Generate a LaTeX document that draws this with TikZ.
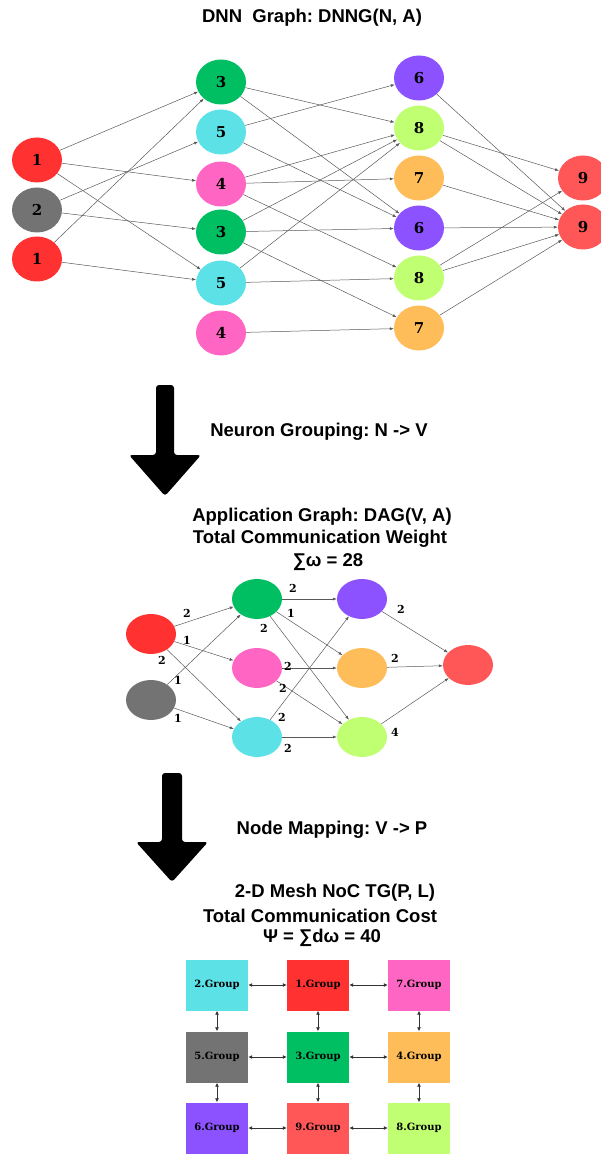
\documentclass[tikz,border=0pt]{standalone}
\usepackage{fontspec}
\usepackage{tikz}
\usetikzlibrary{arrows.meta,shapes.geometric}
\newfontfamily\labelFont{DejaVu Serif}
\newfontfamily\headFont{Liberation Sans}
\frenchspacing
\definecolor{nRed}{HTML}{FF3131}
\definecolor{nLightRed}{HTML}{FF5757}
\definecolor{nGray}{HTML}{737373}
\definecolor{nGreen}{HTML}{00BF63}
\definecolor{nCyan}{HTML}{5CE1E6}
\definecolor{nPink}{HTML}{FF66C4}
\definecolor{nPurple}{HTML}{8C52FF}
\definecolor{nLime}{HTML}{C1FF72}
\definecolor{nOrange}{HTML}{FFBD59}
\tikzstyle{neuronStyle}=[shape = ellipse, minimum width = 50pt, minimum height = 45pt, inner sep = 0pt, font = \labelFont\bfseries\fontsize{15}{15}\selectfont]
\tikzstyle{vertexStyle}=[shape = ellipse, minimum width = 50pt, minimum height = 40pt, inner sep = 0pt]
\tikzstyle{tileStyle}=[shape = rectangle, minimum width = 62pt, minimum height = 51pt, inner sep = 0pt, font = \labelFont\bfseries\fontsize{10}{10}\selectfont]
\tikzstyle{weightStyle}=[inner sep = 0pt, font = \labelFont\bfseries\fontsize{11}{11}\selectfont]
\tikzstyle{headStyle}=[inner sep = 0pt, font = \headFont\bfseries\fontsize{18.5}{22}\selectfont]
\tikzstyle{linkStyle}=[draw = black!65, line width = 0.5pt, -{Latex[length = 4pt, width = 3pt]}]
\tikzstyle{meshStyle}=[draw = black!80, line width = 1pt, {Latex[length = 4pt, width = 4pt]}-{Latex[length = 4pt, width = 4pt]}]

\begin{document}
\begin{tikzpicture}[x = 1pt, y = -1pt]
\useasboundingbox (0,0) rectangle (600,1155);
\node[headStyle] (t0) at (312,18) {DNN\ \ Graph: DNNG(N, A)};
\node[neuronStyle, fill = nRed] (v0) at (37,160) {1};
\node[neuronStyle, fill = nGray] (v1) at (37,210) {2};
\node[neuronStyle, fill = nRed] (v2) at (37,259) {1};
\node[neuronStyle, fill = nGreen] (v3) at (221,82) {3};
\node[neuronStyle, fill = nCyan] (v4) at (221,132) {5};
\node[neuronStyle, fill = nPink] (v5) at (221,184) {4};
\node[neuronStyle, fill = nGreen] (v6) at (221,232) {3};
\node[neuronStyle, fill = nCyan] (v7) at (221,283) {5};
\node[neuronStyle, fill = nPink] (v8) at (221,333) {4};
\node[neuronStyle, fill = nPurple] (v9) at (419,78) {6};
\node[neuronStyle, fill = nLime] (v10) at (419,128) {8};
\node[neuronStyle, fill = nOrange] (v11) at (419,178) {7};
\node[neuronStyle, fill = nPurple] (v12) at (419,228) {6};
\node[neuronStyle, fill = nLime] (v13) at (419,278) {8};
\node[neuronStyle, fill = nOrange] (v14) at (419,328) {7};
\node[neuronStyle, fill = nLightRed] (v15) at (583,178) {9};
\node[neuronStyle, fill = nLightRed] (v16) at (583,227) {9};
\draw[linkStyle] (v0) -- (v3);
\draw[linkStyle] (v0) -- (v5);
\draw[linkStyle] (v0) -- (v7);
\draw[linkStyle] (v1) -- (v4);
\draw[linkStyle] (v1) -- (v6);
\draw[linkStyle] (v2) -- (v3);
\draw[linkStyle] (v2) -- (v7);
\draw[linkStyle] (v3) -- (v10);
\draw[linkStyle] (v3) -- (v12);
\draw[linkStyle] (v4) -- (v9);
\draw[linkStyle] (v4) -- (v12);
\draw[linkStyle] (v5) -- (v10);
\draw[linkStyle] (v5) -- (v11);
\draw[linkStyle] (v5) -- (v13);
\draw[linkStyle] (v6) -- (v10);
\draw[linkStyle] (v6) -- (v12);
\draw[linkStyle] (v6) -- (v14);
\draw[linkStyle] (v7) -- (v10);
\draw[linkStyle] (v7) -- (v13);
\draw[linkStyle] (v8) -- (v14);
\draw[linkStyle] (v9) -- (v16);
\draw[linkStyle] (v10) -- (v15);
\draw[linkStyle] (v10) -- (v16);
\draw[linkStyle] (v11) -- (v16);
\draw[linkStyle] (v12) -- (v16);
\draw[linkStyle] (v13) -- (v15);
\draw[linkStyle] (v13) -- (v16);
\draw[linkStyle] (v14) -- (v16);

\fill[black, rounded corners = 3pt] (156,385) -- (174,385) -- (174,455) -- (201,455) -- (165,496) -- (129,455) -- (156,455) -- cycle;
\node[headStyle] (t1) at (319,432) {Neuron Grouping: N -> V};
\node[headStyle] (t2) at (322,517) {Application Graph: DAG(V, A)};
\node[headStyle] (t3) at (320,539) {Total Communication Weight};
\node[headStyle] (t4) at (328,562) {∑ω = 28};

\node[vertexStyle, fill = nRed] (d0) at (151,634) {};
\node[vertexStyle, fill = nGray] (d1) at (151,700) {};
\node[vertexStyle, fill = nGreen] (d2) at (257,599) {};
\node[vertexStyle, fill = nPink] (d3) at (257,668) {};
\node[vertexStyle, fill = nCyan] (d4) at (257,737) {};
\node[vertexStyle, fill = nPurple] (d5) at (362,599) {};
\node[vertexStyle, fill = nOrange] (d6) at (362,668) {};
\node[vertexStyle, fill = nLime] (d7) at (362,737) {};
\node[vertexStyle, fill = nLightRed] (d8) at (468,665) {};
\draw[linkStyle] (d0) -- (d2);
\draw[linkStyle] (d0) -- (d3);
\draw[linkStyle] (d0) -- (d4);
\draw[linkStyle] (d1) -- (d2);
\draw[linkStyle] (d1) -- (d4);
\draw[linkStyle] (d2) -- (d5);
\draw[linkStyle] (d2) -- (d6);
\draw[linkStyle] (d2) -- (d7);
\draw[linkStyle] (d3) -- (d6);
\draw[linkStyle] (d3) -- (d7);
\draw[linkStyle] (d4) -- (d5);
\draw[linkStyle] (d4) -- (d7);
\draw[linkStyle] (d5) -- (d8);
\draw[linkStyle] (d6) -- (d8);
\draw[linkStyle] (d7) -- (d8);
\node[weightStyle] (w0) at (187,613) {2};
\node[weightStyle] (w1) at (187,640) {1};
\node[weightStyle] (w2) at (162,660) {2};
\node[weightStyle] (w3) at (178,680) {1};
\node[weightStyle] (w4) at (178,718) {1};
\node[weightStyle] (w5) at (293,588) {2};
\node[weightStyle] (w6) at (291,613) {1};
\node[weightStyle] (w7) at (264,628) {2};
\node[weightStyle] (w8) at (288,666) {2};
\node[weightStyle] (w9) at (283,688) {2};
\node[weightStyle] (w10) at (282,717) {2};
\node[weightStyle] (w11) at (288,748) {2};
\node[weightStyle] (w12) at (401,609) {2};
\node[weightStyle] (w13) at (395,658) {2};
\node[weightStyle] (w14) at (395,732) {4};

\fill[black, rounded corners = 3pt] (162,773) -- (182,773) -- (182,842) -- (208,842) -- (172,882) -- (136,842) -- (162,842) -- cycle;
\node[headStyle] (t5) at (332,830) {Node Mapping: V -> P};
\node[headStyle] (t6) at (335,893) {2-D Mesh NoC TG(P, L)};
\node[headStyle] (t7) at (320,916) {Total Communication Cost};
\node[headStyle] (t8) at (322,938) {Ψ = ∑dω = 40};

\node[tileStyle, fill = nCyan] (g2) at (217,985) {2.Group};
\node[tileStyle, fill = nRed] (g1) at (318,985) {1.Group};
\node[tileStyle, fill = nPink] (g7) at (419,985) {7.Group};
\node[tileStyle, fill = nGray] (g5) at (217,1057) {5.Group};
\node[tileStyle, fill = nGreen] (g3) at (318,1057) {3.Group};
\node[tileStyle, fill = nOrange] (g4) at (419,1057) {4.Group};
\node[tileStyle, fill = nPurple] (g6) at (217,1128) {6.Group};
\node[tileStyle, fill = nLightRed] (g9) at (318,1128) {9.Group};
\node[tileStyle, fill = nLime] (g8) at (419,1128) {8.Group};
\draw[meshStyle] (g2) -- (g1);
\draw[meshStyle] (g1) -- (g7);
\draw[meshStyle] (g5) -- (g3);
\draw[meshStyle] (g3) -- (g4);
\draw[meshStyle] (g6) -- (g9);
\draw[meshStyle] (g9) -- (g8);
\draw[meshStyle] (g2) -- (g5);
\draw[meshStyle] (g5) -- (g6);
\draw[meshStyle] (g1) -- (g3);
\draw[meshStyle] (g3) -- (g9);
\draw[meshStyle] (g7) -- (g4);
\draw[meshStyle] (g4) -- (g8);
\end{tikzpicture}
\end{document}
